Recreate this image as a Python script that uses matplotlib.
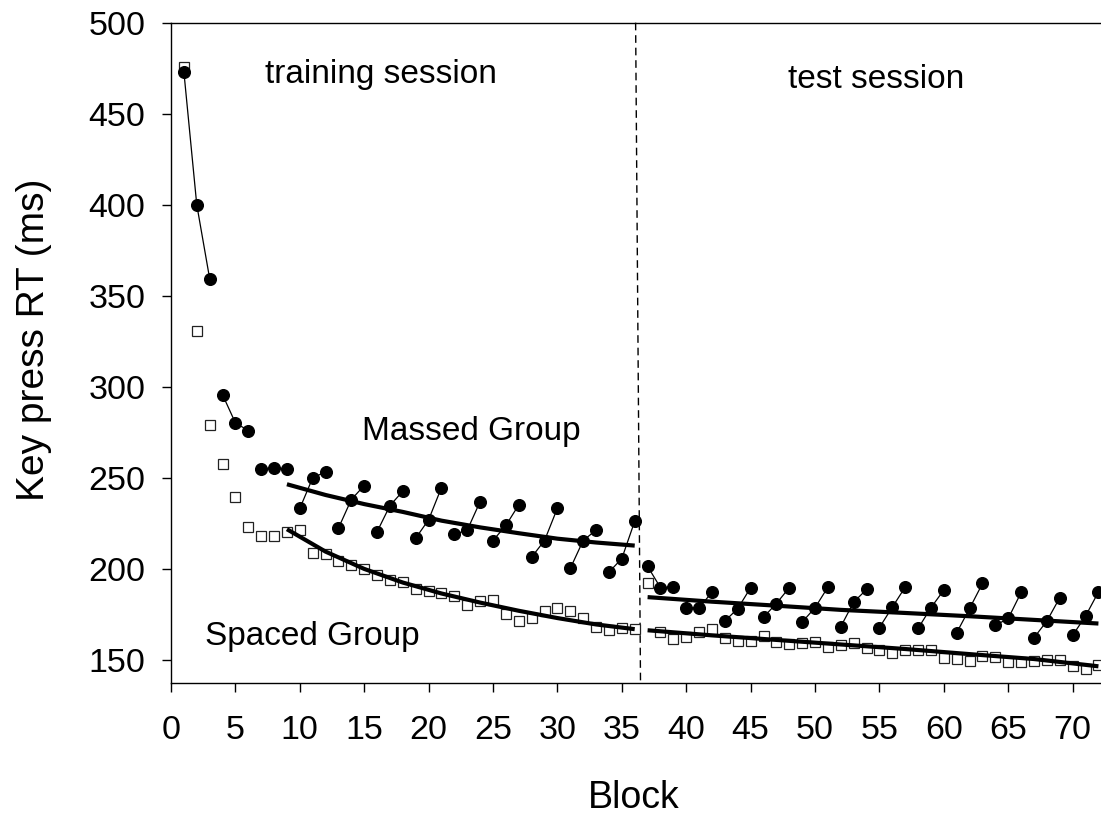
import numpy as np
import matplotlib.pyplot as plt

plt.rcParams['font.family'] = ['Liberation Sans', 'DejaVu Sans']

# blocks 1-36 = training, 37-72 = test
blocks = np.arange(1, 73)

massed_rt = [
    473, 400, 359.5, 295.7, 280.2, 276, 255, 255.5, 255,
    233.2, 250, 253.3, 222.4, 238.1, 245.8, 220.4, 234.8, 242.7,
    216.9, 227, 244.7, 219, 221.3, 237, 215.6, 223.9, 235.2,
    206.5, 215.6, 233.4, 200.3, 215.6, 221.3, 198.2, 205.7, 226.2,
    201.4, 189.7, 190.2, 178.5, 178.5, 187.3, 171.4, 178.2, 189.7,
    173.5, 181, 189.7, 170.8, 178.7, 190, 168.3, 181.8, 188.7,
    167.8, 179, 190, 167.3, 178.7, 188.4, 165, 178.3, 192,
    169, 172.8, 187.1, 162.2, 171.4, 184.2, 163.5, 174.1, 187.3,
]

spaced_rt = [
    475.8, 330.9, 278.9, 257.7, 239.4, 223.1, 218, 217.8, 220.2, 221.4,
    209, 208.1, 204.6, 202, 199.8, 196.5, 194, 192.9, 189.2, 188,
    186.6, 185.2, 180.2, 182.4, 183, 175.3, 171.6, 173, 177, 178.7,
    176.9, 173.3, 167.9, 166.5, 167.4, 166.9,
    192.1, 165.6, 161.4, 162.8, 165.6, 166.9, 161.9, 160.6, 160.6, 163.2,
    160.1, 158.8, 159.5, 159.9, 157, 158.3, 159.5, 156.4, 155.5, 153.7,
    155.5, 155.5, 155.5, 151.3, 150.5, 149.5, 152.2, 151.8, 149.1, 149.1,
    149.5, 150, 150, 146.7, 145.2, 147.3,
]

# fitted curves
fit_train_blocks = [9, 12, 15, 18, 21, 24, 27, 30, 33, 36]
massed_fit_train = [246.5, 240.6, 235.6, 231.3, 226.5, 222.8, 219.6, 216.6, 214.5, 212.8]
spaced_fit_train = [221.8, 209.5, 200, 192.5, 186.5, 181.5, 177, 173, 169.5, 166.9]

fit_test_blocks = [37, 42, 47, 52, 57, 62, 67, 72]
massed_fit_test = [184.5, 182, 179.8, 177.5, 175.8, 174, 172, 170]
spaced_fit_test = [166.3, 163.5, 161, 158.5, 156, 153.2, 150.5, 146.5]

# session boundary (drawn slightly slanted in the original)
boundary_x = [36.07, 36.45]

fig = plt.figure(figsize=(11.01, 8.14), dpi=100)
ax = fig.add_axes([171 / 1101, 1 - 682.7 / 814, 930 / 1101, 660 / 814])

# spaced group: open squares, no connecting lines
ax.plot(blocks, spaced_rt, linestyle='none', marker='s', markersize=7.2,
        markerfacecolor='white', markeredgecolor='#222222', markeredgewidth=0.9,
        clip_on=False, zorder=3)

# massed group: filled circles, joined within each day (3 blocks)
m = np.array(massed_rt)
for i in range(0, 72, 3):
    ax.plot(blocks[i:i + 3], m[i:i + 3], color='black', linewidth=0.9,
            marker='o', markersize=8.4, markerfacecolor='black',
            markeredgecolor='black', clip_on=False, zorder=4)

for bx, vals in [(fit_train_blocks, massed_fit_train), (fit_train_blocks, spaced_fit_train),
                 (fit_test_blocks, massed_fit_test), (fit_test_blocks, spaced_fit_test)]:
    ax.plot(bx, vals, color='black', linewidth=3, solid_capstyle='butt', zorder=5)

ax.plot(boundary_x, [500, 137.5], color='black', linewidth=1.0,
        linestyle=(0, (5.5, 3.5)), zorder=2, clip_on=False)

ax.text(7.3, 467, 'training session', fontsize=24, ha='left', va='baseline')
ax.text(47.9, 464, 'test session', fontsize=24, ha='left', va='baseline')
ax.text(14.8, 270.8, 'Massed Group', fontsize=24, ha='left', va='baseline')
ax.text(2.64, 158.3, 'Spaced Group', fontsize=24, ha='left', va='baseline')

ax.set_xlim(0, 72.2)
ax.set_ylim(137.5, 500)
ax.set_xticks(np.arange(0, 71, 5))
ax.set_yticks(np.arange(150, 501, 50))
ax.tick_params(axis='both', direction='out', length=6.5, width=1.0, labelsize=24.5)
ax.tick_params(axis='y', pad=12)
ax.tick_params(axis='x', pad=17)

ax.spines['right'].set_visible(False)
for s in ['left', 'bottom', 'top']:
    ax.spines[s].set_linewidth(1.0)

ax.set_xlabel('Block', fontsize=27)
ax.set_ylabel('Key press RT (ms)', fontsize=28)
ax.xaxis.label.set_va('baseline')
ax.xaxis.set_label_coords(0.497, (682.7 - 808) / 660)
ax.yaxis.set_label_coords(-0.128, 0.519)

fig.savefig('out.png', dpi=100)
